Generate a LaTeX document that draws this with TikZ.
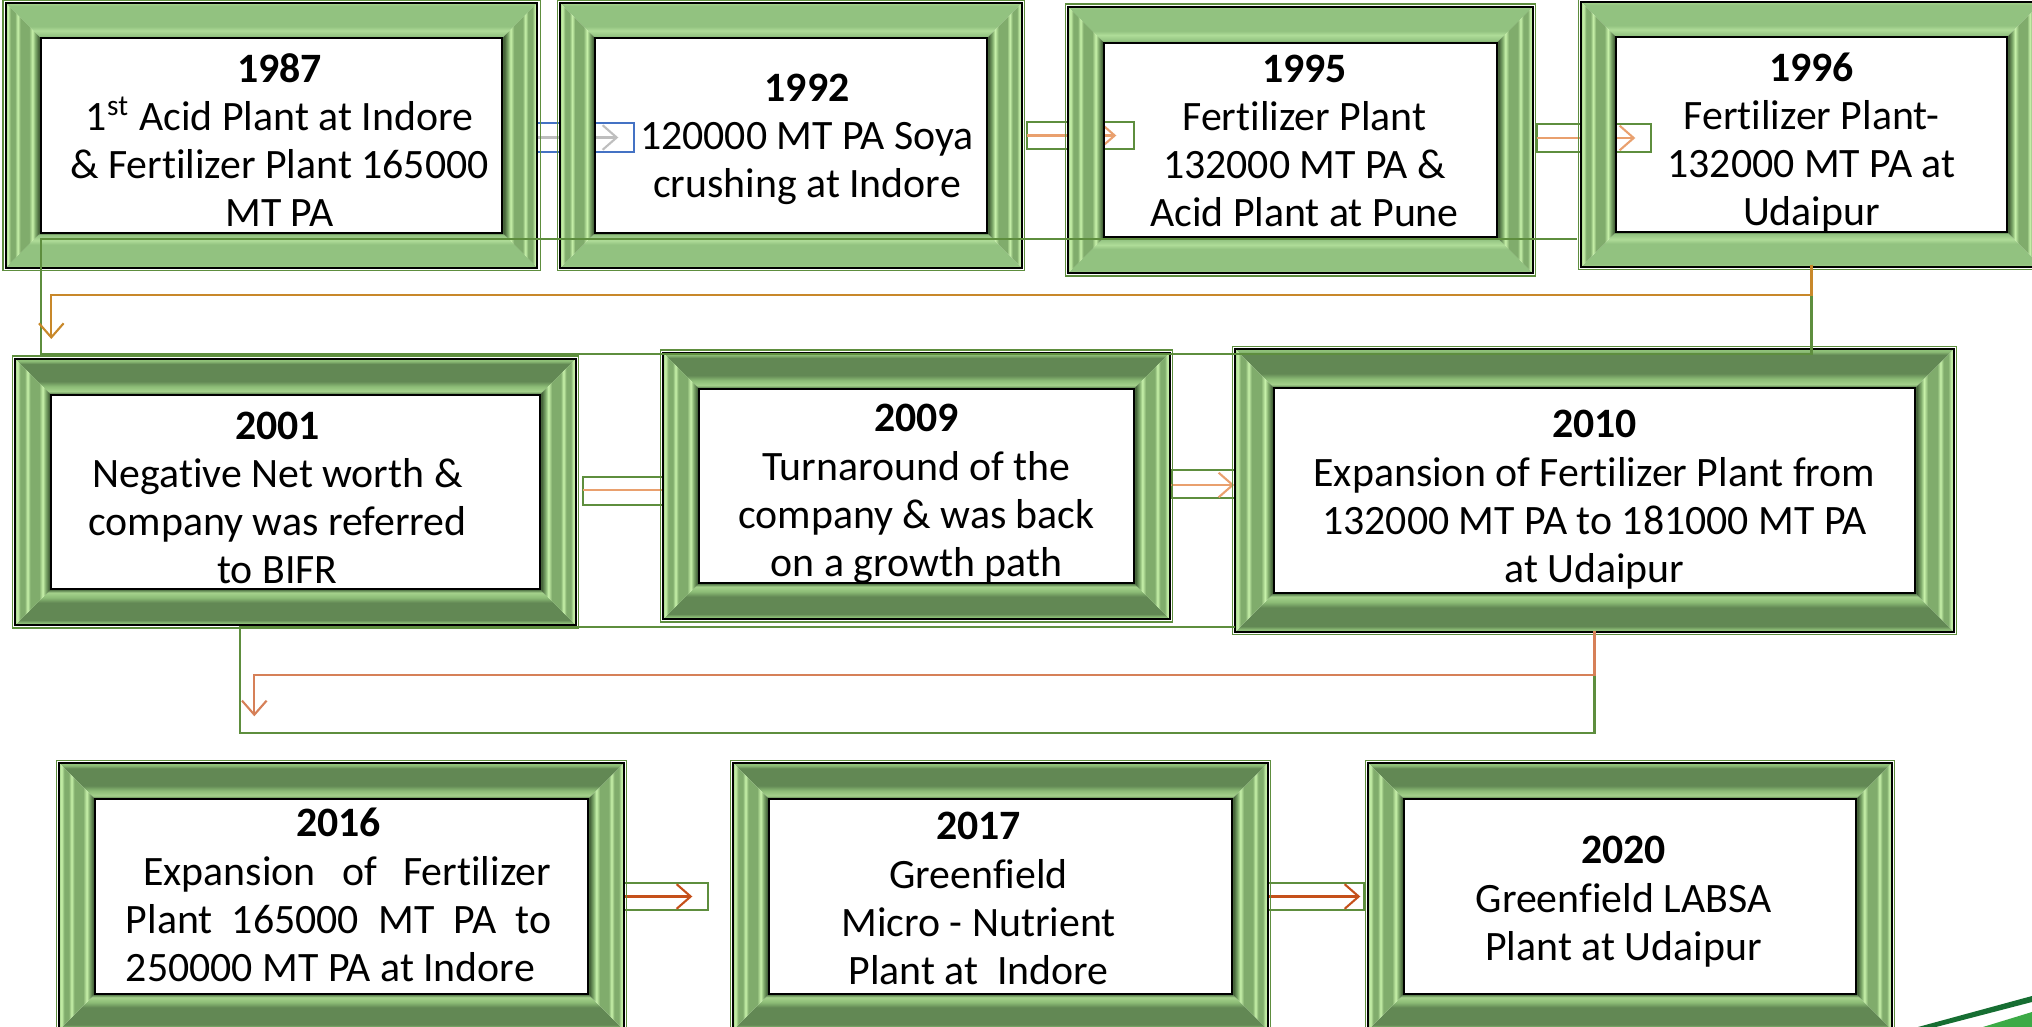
\documentclass[tikz,border=0pt]{standalone}
\usepackage{fontspec}
\setmainfont{Carlito}[Ligatures=NoCommon]
\usepackage{tikz}
\usetikzlibrary{calc,arrows.meta,positioning}
\definecolor{framedark}{RGB}{70,100,58}
\definecolor{framemid}{RGB}{128,172,108}
\definecolor{framelight}{RGB}{165,210,140}
\definecolor{framebright}{RGB}{200,242,170}
\definecolor{topAedge}{RGB}{165,210,140}
\definecolor{topAmid}{RGB}{146,194,128}
\definecolor{topAhi}{RGB}{175,220,152}
\definecolor{topBedge}{RGB}{145,195,122}
\definecolor{topBmid}{RGB}{98,136,84}
\definecolor{topBhi}{RGB}{140,188,118}
\definecolor{linkgreen}{RGB}{94,142,62}
\definecolor{linkblue}{RGB}{68,114,196}
\definecolor{linkgrey}{RGB}{190,190,190}
\definecolor{linkorange}{RGB}{233,160,110}
\definecolor{linkrust}{RGB}{197,80,26}
\definecolor{bendgold}{RGB}{200,136,42}
\definecolor{bendsalmon}{RGB}{214,128,88}
\definecolor{swooshdark}{RGB}{22,110,50}
\definecolor{swooshlight}{RGB}{60,170,70}
\pgfdeclarehorizontalshading{frameside}{100bp}{color(0bp)=(framelight); color(25bp)=(framelight); color(28bp)=(framebright); color(32bp)=(framemid); color(38bp)=(framemid); color(42bp)=(framebright); color(46bp)=(framemid); color(58bp)=(framemid); color(63bp)=(framebright); color(67bp)=(framemid); color(72bp)=(framedark); color(75bp)=(framedark); color(100bp)=(framedark)}
\pgfdeclarehorizontalshading{frametopA}{100bp}{color(0bp)=(topAedge); color(25bp)=(topAedge); color(29bp)=(topAmid); color(58bp)=(topAmid); color(64bp)=(topAhi); color(72bp)=(topAmid); color(75bp)=(framedark); color(100bp)=(framedark)}
\pgfdeclarehorizontalshading{frametopB}{100bp}{color(0bp)=(topBedge); color(25bp)=(topBedge); color(28bp)=(topBhi); color(32bp)=(topBmid); color(56bp)=(topBmid); color(63bp)=(topBhi); color(70bp)=(framelight); color(73bp)=(topBmid); color(75bp)=(framedark); color(100bp)=(framedark)}
% text block, nudged right by #1 and down by #2
\newcommand{\entry}[3]{\hspace*{#1}\raisebox{-#2}[\height][\depth]{\begin{tabular}{@{}c@{}}#3\end{tabular}}\hspace*{-#1}}
\tikzstyle{milestone}=[rectangle,inner sep=0pt,font=\fontsize{11.9}{13.7}\selectfont]
\tikzstyle{linkbox}=[draw=linkgreen,line width=0.6pt]
\tikzstyle{linkarrow}=[->,line width=0.6pt]
\tikzstyle{bendbox}=[draw=linkgreen,line width=0.6pt]
\tikzstyle{bendarrow}=[->,line width=0.6pt]
\begin{document}
\begin{tikzpicture}[x=0.1mm,y=-0.1mm,>={Straight Barb[length=4pt,width=7pt]}]
\fill[white] (0,0) rectangle (2032,1027);
\useasboundingbox (0,0) rectangle (2032,1027);
\clip (0,0) rectangle (2032,1027);
% milestones
\draw (271.5,135.5) node [milestone,minimum width=46mm,minimum height=19.3mm] (y1987) {\entry{0.8mm}{0.95mm}{\textbf{1987}\\1\textsuperscript{st} Acid Plant at Indore\\\& Fertilizer Plant 165000\\MT PA}};
\draw (791,135.5) node [milestone,minimum width=39mm,minimum height=19.3mm] (y1992) {\entry{1.6mm}{0.45mm}{\textbf{1992}\\120000 MT PA Soya\\crushing at Indore}};
\draw (1300.5,140) node [milestone,minimum width=39.1mm,minimum height=19.2mm] (y1995) {\entry{0.4mm}{0.5mm}{\textbf{1995}\\Fertilizer Plant\\132000 MT PA \&\\Acid Plant at Pune}};
\draw (1811.5,134.5) node [milestone,minimum width=38.9mm,minimum height=19.3mm] (y1996) {\entry{0mm}{0.95mm}{\textbf{1996}\\Fertilizer Plant-\\132000 MT PA at\\Udaipur}};
\draw (295.5,492) node [milestone,minimum width=48.7mm,minimum height=19.2mm] (y2001) {\entry{-1.8mm}{1mm}{\textbf{2001}\\Negative Net worth \&\\company was referred\\to BIFR}};
\draw (916.5,486) node [milestone,minimum width=43.3mm,minimum height=19.2mm] (y2009) {\entry{0mm}{0.85mm}{\textbf{2009}\\Turnaround of the\\company \& was back\\on a growth path}};
\draw (1594.5,490.5) node [milestone,minimum width=63.9mm,minimum height=20.3mm] (y2010) {\entry{0mm}{1mm}{\textbf{2010}\\Expansion of Fertilizer Plant from\\132000 MT PA to 181000 MT PA\\at Udaipur}};
\draw (341.5,896.5) node [milestone,minimum width=49.1mm,minimum height=19.3mm] (y2016) {\entry{-0.3mm}{0.3mm}{\textbf{2016}\\\makebox[121pt][s]{\hspace{5pt}Expansion of Fertilizer}\\\makebox[121pt][s]{Plant 165000 MT PA to}\\\makebox[121pt][l]{250000 MT PA at Indore}}};
\draw (1000.5,896.5) node [milestone,minimum width=46.1mm,minimum height=19.3mm] (y2017) {\entry{-2.2mm}{0.6mm}{\textbf{2017}\\Greenfield\\Micro - Nutrient\\Plant at\ \ Indore}};
\draw (1630,896.5) node [milestone,minimum width=45mm,minimum height=19.3mm] (y2020) {\entry{-0.65mm}{0.6mm}{\textbf{2020}\\Greenfield LABSA\\Plant at Udaipur}};
% links along the rows
\draw[linkbox,draw=linkblue] ($(y1987.east)+(34,-12.5)$) rectangle ($(y1992.west)+(39,16.5)$);
\draw[linkarrow,draw=linkgrey] ($(y1987.east)+(34,2)$) -- ($(y1992.west)+(23,2)$);
\draw[linkbox] ($(y1992.east)+(40,-13.5)$) rectangle ($(y1995.west)+(30,9)$);
\draw[linkarrow,draw=linkorange] ($(y1992.east)+(40,0)$) -- ($(y1995.west |- y1992.east)+(12,0)$);
\draw[linkbox] ($(y1995.east)+(40,-16)$) rectangle ($(y1996.west)+(35,17.5)$);
\draw[linkarrow,draw=linkorange] ($(y1995.east)+(40,-2)$) -- ($(y1996.west |- y1995.east)+(19,-2)$);
\draw[linkbox] ($(y2001.east)+(43,-15)$) rectangle ($(y2009.west)+(-33,19)$);
\draw[linkarrow,draw=linkorange] ($(y2001.east)+(43,-2)$) -- ($(y2009.west |- y2001.east)+(-10,-2)$);
\draw[linkbox] ($(y2009.east)+(37,-16)$) rectangle ($(y2010.west)+(-35,7.5)$);
\draw[linkarrow,draw=linkorange] ($(y2009.east)+(37,-1)$) -- ($(y2010.west |- y2009.east)+(-40,-1)$);
\draw[linkbox] ($(y2016.east)+(36,-13.5)$) rectangle ($(y2017.west)+(-61,13.5)$);
\draw[linkarrow,draw=linkrust] ($(y2016.east)+(36,0)$) -- ($(y2017.west)+(-77,0)$);
\draw[linkbox] ($(y2017.east)+(36.5,-13.5)$) rectangle ($(y2020.west)+(-40,13.5)$);
\draw[linkarrow,draw=linkrust] ($(y2017.east)+(36.5,0)$) -- ($(y2020.west)+(-44,0)$);
% picture frames
\foreach \n/\fw/\ts in {y1987/35/frametopA,y1992/35/frametopA,y1995/36/frametopA,y1996/35/frametopA,y2001/36/frametopB,y2009/36/frametopB,y2010/39/frametopB,y2016/36/frametopB,y2017/36/frametopB,y2020/36/frametopB}{
  \shade[shading=\ts,shading angle=-90] ($(\n.north west)+(-\fw,-\fw)$) -- ($(\n.north east)+(\fw,-\fw)$) -- (\n.north east) -- (\n.north west) -- cycle;
  \shade[shading=\ts,shading angle=90] ($(\n.south west)+(-\fw,\fw)$) -- ($(\n.south east)+(\fw,\fw)$) -- (\n.south east) -- (\n.south west) -- cycle;
  \shade[shading=frameside] ($(\n.north west)+(-\fw,-\fw)$) -- (\n.north west) -- (\n.south west) -- ($(\n.south west)+(-\fw,\fw)$) -- cycle;
  \shade[shading=frameside,shading angle=180] ($(\n.north east)+(\fw,-\fw)$) -- (\n.north east) -- (\n.south east) -- ($(\n.south east)+(\fw,\fw)$) -- cycle;
  \draw[linkgreen,line width=0.4pt] ($(\n.north west)+(-\fw-3,-\fw-3)$) rectangle ($(\n.south east)+(\fw+3,\fw+3)$);
  \draw[line width=0.6pt] ($(\n.north west)+(-\fw,-\fw)$) rectangle ($(\n.south east)+(\fw,\fw)$);
  \draw[line width=0.6pt] (\n.north west) rectangle (\n.south east);
}
% bends between the rows
\draw[bendbox] ($(y1996.south)+(0,33)$) -- ($(y1996.south)+(0,122)$) -| ($(y1987.south west)+(0,6)$) -- ($(y1996.west |- y1987.south)+(-39,6)$);
\draw[bendarrow,draw=bendgold] ($(y1996.south)+(0,33)$) -- ++(0,30) -| ($(y2001.north west)+(0,-56)$);
\draw[bendbox] ($(y2010.south)+(0,38)$) -- ($(y2010.south)+(0,140)$) -| ($(y2001.south west)+(189,38)$) -- ($(y2010.west |- y2001.south)+(-39,38)$);
\draw[bendarrow,draw=bendsalmon] ($(y2010.south)+(0,38)$) -- ++(0,44) -| ($(y2016.north west)+(159,-83)$);
% corner swoosh
\fill[swooshdark] (1918,1027) -- (2032,996) -- (2032,1002) -- (1936,1027) -- cycle;
\fill[swooshlight] (1983,1027) -- (2032,1012) -- (2032,1027) -- cycle;
\end{tikzpicture}
\end{document}
